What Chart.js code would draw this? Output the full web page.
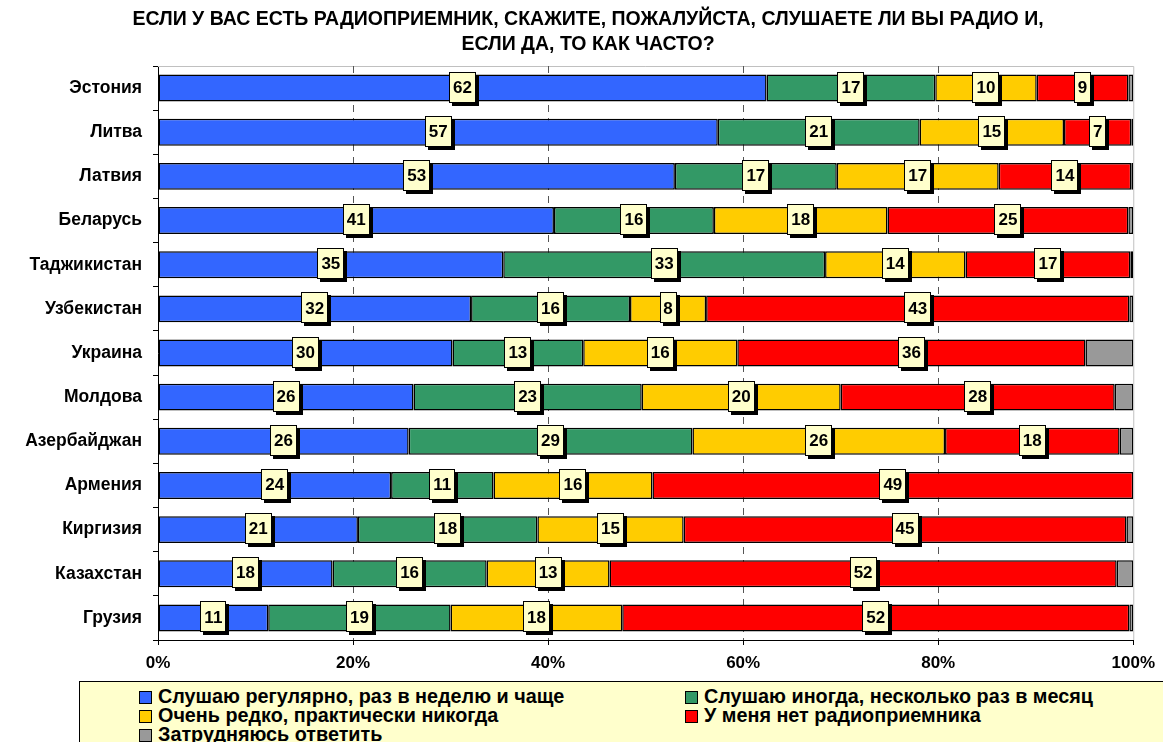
<!DOCTYPE html>
<html>
<head>
<meta charset="utf-8">
<script src="https://cdn.jsdelivr.net/npm/chart.js@4/dist/chart.umd.min.js"></script>
<style>
    body { margin: 0; background: #fff; }
    #wrap { position: relative; width: 1163px; height: 742px; overflow: hidden; }
    #legend {
        position: absolute; left: 79px; top: 681px; width: 1100px; height: 80px;
        background: #FFFFCC; border: 1px solid #000; box-sizing: border-box;
        font: bold 19.8px "Liberation Sans", Arial, sans-serif; color: #000;
    }
    .item { position: absolute; height: 19px; line-height: 19px; white-space: nowrap; }
    .item i { display: inline-block; width: 11px; height: 11px; border: 1px solid #000; margin-right: 6px; vertical-align: -1px; }
</style>
</head>
<body>
<div id="wrap">
    <canvas id="radioChart" width="1163" height="742"></canvas>
    <div id="legend"></div>
</div>
<script>
const categories = ["Эстония", "Литва", "Латвия", "Беларусь", "Таджикистан", "Узбекистан", "Украина",
    "Молдова", "Азербайджан", "Армения", "Киргизия", "Казахстан", "Грузия"];

const regular   = [62.4, 57.4, 53.0, 40.6, 35.4, 32.1, 30.2, 26.2, 25.7, 23.9, 20.5, 17.9, 11.3];
const sometimes = [17.3, 20.7, 16.6, 16.4, 33.0, 16.3, 13.4, 23.4, 29.1, 10.5, 18.4, 15.8, 18.7];
const rarely    = [10.4, 14.8, 16.6, 17.8, 14.4, 7.8, 15.8, 20.4, 25.9, 16.3, 15.0, 12.6, 17.6];
const noRadio   = [9.4, 6.9, 13.6, 24.7, 16.9, 43.4, 35.7, 28.1, 17.9, 49.3, 45.4, 52.0, 52.0];
const hardToSay = [0.5, 0.2, 0.2, 0.5, 0.3, 0.4, 4.9, 1.9, 1.4, 0, 0.7, 1.7, 0.4];

const seriesNames = ["Слушаю регулярно, раз в неделю и чаще", "Слушаю иногда, несколько раз в месяц",
    "Очень редко, практически никогда", "У меня нет радиоприемника", "Затрудняюсь ответить"];
const seriesColors = ["#3366FF", "#339966", "#FFCC00", "#FF0000", "#999999"];
const xTicks = [0, 20, 40, 60, 80, 100];

const titleLines = ["ЕСЛИ У ВАС ЕСТЬ РАДИОПРИЕМНИК, СКАЖИТЕ, ПОЖАЛУЙСТА, СЛУШАЕТЕ ЛИ ВЫ РАДИО И,",
    "ЕСЛИ ДА, ТО КАК ЧАСТО?"];

const FONT = '"Liberation Sans", Arial, sans-serif';

// legend (html, two columns)
const legendPos = [[59, 5], [605, 5], [59, 24], [605, 24], [59, 43]];
const legendEl = document.getElementById("legend");
seriesNames.forEach((name, i) => {
    let d = document.createElement("div");
    d.className = "item";
    d.style.left = legendPos[i][0] + "px";
    d.style.top = legendPos[i][1] + "px";
    d.innerHTML = '<i style="background:' + seriesColors[i] + '"></i>' + name;
    legendEl.appendChild(d);
});

// title is drawn off-centre (over the whole sheet, not the plot)
const titlePlugin = {
    id: "sheetTitle",
    afterDraw(chart) {
        const ctx = chart.ctx;
        ctx.save();
        ctx.font = "bold 19.5px " + FONT;
        ctx.fillStyle = "#000";
        ctx.textAlign = "center";
        ctx.textBaseline = "middle";
        titleLines.forEach((t, i) => ctx.fillText(t, 588, 20 + i * 25));
        ctx.restore();
    }
};

// grid + frame
const framePlugin = {
    id: "frame",
    beforeDatasetsDraw(chart) {
        const { ctx, chartArea: a, scales } = chart;
        ctx.save();
        ctx.strokeStyle = "#C0C0C0";
        ctx.lineWidth = 1;
        ctx.beginPath();
        ctx.moveTo(a.left, a.top + 0.5);
        ctx.lineTo(a.right + 0.5, a.top + 0.5);
        ctx.lineTo(a.right + 0.5, a.bottom);
        ctx.stroke();
        ctx.strokeStyle = "#555";
        ctx.setLineDash([7, 6]);
        xTicks.slice(1, -1).forEach(v => {
            let x = Math.round(scales.x.getPixelForValue(v)) + 0.5;
            ctx.beginPath();
            ctx.moveTo(x, a.top);
            ctx.lineTo(x, a.bottom);
            ctx.stroke();
        });
        ctx.restore();
    }
};

// boxed value labels
const labelPlugin = {
    id: "boxLabels",
    afterDatasetsDraw(chart) {
        const ctx = chart.ctx;
        ctx.save();
        ctx.font = "bold 17px " + FONT;
        ctx.textAlign = "center";
        ctx.textBaseline = "middle";
        chart.data.datasets.forEach((ds, di) => {
            if (di > 3) return;
            chart.getDatasetMeta(di).data.forEach((bar, i) => {
                let p = bar.getProps(["x", "y", "base"], true);
                let cx = (p.x + p.base) / 2;
                let cy = p.y - 1;
                let txt = String(Math.round(ds.data[i]));
                let w = Math.round(ctx.measureText(txt).width) + 8;
                let h = 31;
                let x0 = Math.round(cx - w / 2), y0 = Math.round(cy - h / 2);
                ctx.fillStyle = "#000";
                ctx.fillRect(x0 + 3, y0 + 3, w, h);
                ctx.fillStyle = "#FFFFCC";
                ctx.fillRect(x0, y0, w, h);
                ctx.strokeStyle = "#000";
                ctx.lineWidth = 1;
                ctx.strokeRect(x0 + 0.5, y0 + 0.5, w - 1, h - 1);
                ctx.fillStyle = "#000";
                ctx.fillText(txt, cx, cy + 1);
            });
        });
        ctx.restore();
    }
};

const seriesData = [regular, sometimes, rarely, noRadio, hardToSay];

new Chart(document.getElementById("radioChart"), {
    type: "bar",
    data: {
        labels: categories,
        datasets: seriesData.map((arr, i) => ({
            label: seriesNames[i],
            data: arr,
            backgroundColor: seriesColors[i],
            borderColor: "#000",
            borderWidth: 1.5,
            borderSkipped: false,
            categoryPercentage: 1,
            barPercentage: 0.61
        }))
    },
    options: {
        indexAxis: "y",
        responsive: false,
        animation: false,
        layout: { padding: { left: 0, right: 25, top: 66, bottom: 0 } },
        plugins: {
            legend: { display: false },
            tooltip: { enabled: false },
            title: { display: false }
        },
        scales: {
            x: {
                stacked: true,
                min: 0,
                max: 100,
                afterBuildTicks: scale => { scale.ticks = xTicks.map(v => ({ value: v })); },
                afterFit: scale => { scale.height = 102; },
                ticks: {
                    color: "#000",
                    font: { family: FONT, size: 17, weight: "bold" },
                    padding: 8,
                    maxRotation: 0,
                    callback: v => v + "%"
                },
                grid: { drawOnChartArea: false, tickLength: 5, tickColor: "#000" },
                border: { color: "#000", width: 1 }
            },
            y: {
                stacked: true,
                afterFit: scale => { scale.width = 158; },
                ticks: {
                    color: "#000",
                    font: { family: FONT, size: 17.5, weight: "bold" },
                    padding: 11
                },
                grid: { drawOnChartArea: false, offset: true, tickLength: 5, tickColor: "#000" },
                border: { color: "#000", width: 1 }
            }
        }
    },
    plugins: [framePlugin, labelPlugin, titlePlugin]
});
</script>
</body>
</html>
